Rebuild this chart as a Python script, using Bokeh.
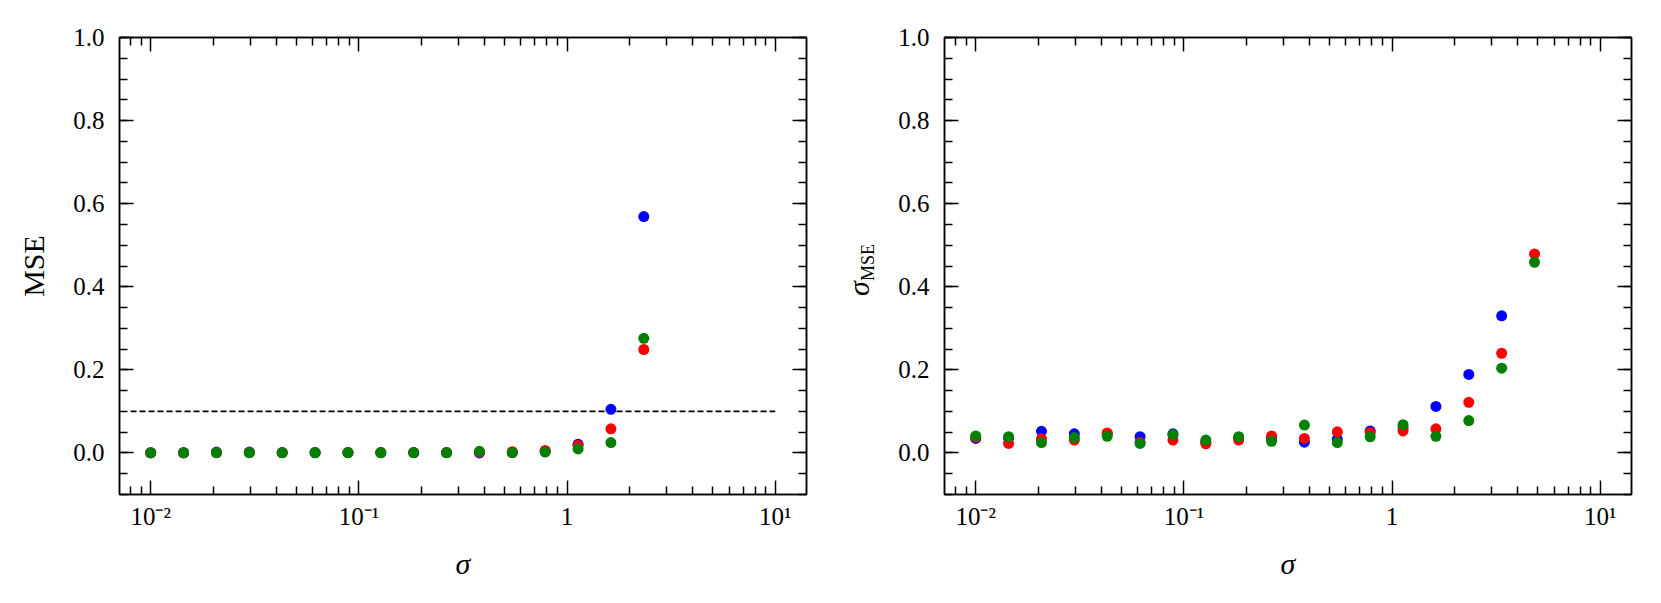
from bokeh.plotting import figure
from bokeh.layouts import row
from bokeh.models import (FixedTicker, LogAxis, LinearAxis, Range1d, Div,
                          CustomJSTickFormatter)
from bokeh.embed import file_html
from bokeh.resources import INLINE

# ---------------- data ----------------
sigma = [0.01, 0.014384, 0.020691, 0.029764, 0.042813, 0.061585, 0.088587,
         0.127427, 0.183298, 0.263665, 0.379269, 0.545559, 0.784760,
         1.128838, 1.623777, 2.335721, 3.359818, 4.832930]

# left panel: MSE
mse_blue = [0.0005, 0.0005, 0.002, 0.002, 0.001, 0.0008, 0.0008, 0.0008, 0.0008,
            0.0008, 0.0, 0.001, 0.004, 0.021, 0.105, 0.569]
mse_red = [0.0005, 0.0005, 0.001, 0.001, 0.001, 0.0008, 0.0008, 0.0008, 0.0008,
           0.001, 0.002, 0.003, 0.006, 0.018, 0.058, 0.249]
mse_green = [0.0005, 0.0005, 0.0005, 0.0005, 0.0005, 0.0005, 0.0005, 0.0005, 0.0005,
             0.0005, 0.004, 0.001, 0.002, 0.0096, 0.025, 0.276]

# right panel: sigma_MSE
std_blue = [0.035, 0.036, 0.052, 0.046, 0.046, 0.039, 0.046, 0.026, 0.036,
            0.035, 0.026, 0.033, 0.053, 0.060, 0.112, 0.189, 0.330]
std_red = [0.038, 0.023, 0.034, 0.031, 0.048, 0.025, 0.031, 0.022, 0.031,
           0.041, 0.035, 0.051, 0.049, 0.053, 0.058, 0.122, 0.240, 0.479]
std_green = [0.041, 0.039, 0.025, 0.037, 0.040, 0.023, 0.044, 0.031, 0.039,
             0.028, 0.067, 0.025, 0.039, 0.068, 0.040, 0.078, 0.204, 0.459]

threshold_y = [0.1, 0.1]
threshold_x = [0.008, 10.0]

x_major = [0.01, 0.1, 1.0, 10.0]
x_label_text = ["10\u207b\u00b2", "10\u207b\u00b9", "1", "10\u00b9"]
y_major = [0.0, 0.2, 0.4, 0.6, 0.8, 1.0]

# ---------------- style ----------------
FONT = "Liberation Serif"
X_LO, X_HI = 10 ** -2.15, 10 ** 1.15
Y_LO, Y_HI = -0.1, 1.0
FW, FH = 687, 457
TOP, BOTTOM = 37, 100

x_minor = [m * 10.0 ** e for e in range(-3, 2) for m in range(2, 10)
           if X_LO <= m * 10.0 ** e <= X_HI]
y_minor = [round(-0.1 + 0.05 * i, 2) for i in range(23)]

x_fmt_code = """
let best = 0, bd = Infinity;
for (let i = 0; i < ticks_v.length; i++) {
  const d = Math.abs(Math.log10(tick) - Math.log10(ticks_v[i]));
  if (d < bd) { bd = d; best = i; }
}
return names[best];
"""
y_fmt_code = "return tick.toFixed(1);"


def style_axis(ax, labels_on, standoff=12):
    ax.axis_line_width = 1.5
    ax.axis_line_color = "black"
    ax.major_tick_in = 14
    ax.major_tick_out = 0
    ax.minor_tick_in = 8
    ax.minor_tick_out = 0
    ax.major_tick_line_width = 1.5
    ax.minor_tick_line_width = 1.5
    ax.major_tick_line_color = "black"
    ax.minor_tick_line_color = "black"
    ax.major_label_text_font = FONT
    if labels_on:
        ax.major_label_text_color = "black"
        ax.major_label_text_font_size = "25px"
        ax.major_label_standoff = standoff
    else:
        ax.major_label_text_alpha = 0.0
        ax.major_label_text_font_size = "2px"
        ax.major_label_standoff = 0


def make_fig(border_left, border_right):
    p = figure(x_axis_type="log",
               x_range=Range1d(X_LO, X_HI), y_range=Range1d(Y_LO, Y_HI),
               frame_width=FW, frame_height=FH,
               min_border_left=border_left, min_border_right=border_right,
               min_border_top=TOP, min_border_bottom=BOTTOM,
               output_backend="svg", toolbar_location=None)
    p.xgrid.visible = False
    p.ygrid.visible = False
    p.outline_line_color = "black"
    p.outline_line_width = 1.5
    p.background_fill_color = "white"
    p.border_fill_color = "white"

    xt = FixedTicker(ticks=x_major, minor_ticks=x_minor)
    yt = FixedTicker(ticks=y_major, minor_ticks=y_minor)

    bottom = p.xaxis[0]
    left = p.yaxis[0]
    bottom.ticker = xt
    bottom.formatter = CustomJSTickFormatter(
        args=dict(ticks_v=x_major, names=x_label_text), code=x_fmt_code)
    left.ticker = yt
    left.formatter = CustomJSTickFormatter(code=y_fmt_code)
    style_axis(bottom, True, 8)
    style_axis(left, True, 15)

    bottom.axis_label = "\u03c3"
    bottom.axis_label_text_font = FONT
    bottom.axis_label_text_font_style = "italic"
    bottom.axis_label_text_font_size = "30px"
    bottom.axis_label_standoff = 14
    bottom.axis_label_text_color = "black"

    top = LogAxis(ticker=xt, formatter=CustomJSTickFormatter(
        args=dict(ticks_v=x_major, names=x_label_text), code=x_fmt_code))
    style_axis(top, False)
    p.add_layout(top, "above")
    right = LinearAxis(ticker=yt, formatter=CustomJSTickFormatter(code=y_fmt_code))
    style_axis(right, False)
    p.add_layout(right, "right")
    return p, left


def dots(p, x, y, color):
    p.scatter(x[:len(y)], y, size=11, fill_color=color, line_color=color,
              line_width=0)


# left panel
p1, left1 = make_fig(119, 24)
p1.line(threshold_x, threshold_y, line_color="black", line_width=1.6,
        line_dash="6 3")
dots(p1, sigma, mse_blue, "blue")
dots(p1, sigma, mse_red, "red")
dots(p1, sigma, mse_green, "green")
left1.axis_label = "MSE"
left1.axis_label_text_font = FONT
left1.axis_label_text_font_style = "normal"
left1.axis_label_text_font_size = "30px"
left1.axis_label_standoff = 20
left1.axis_label_text_color = "black"

# right panel
p2, left2 = make_fig(46, 21)
dots(p2, sigma, std_blue, "blue")
dots(p2, sigma, std_red, "red")
dots(p2, sigma, std_green, "green")

# y label of the right panel: sigma with subscript MSE (rotated)
TOTAL_H = TOP + FH + BOTTOM
DIV_W = 55
label_html = (
    '<div style="position:relative;width:%dpx;height:%dpx;">'
    '<div style="position:absolute;left:25px;top:%dpx;'
    'transform:translate(-50%%,-50%%) rotate(-90deg);white-space:nowrap;'
    "font-family:'Liberation Serif',serif;font-size:30px;line-height:1;color:black;\">"
    '<span style="font-style:italic;">\u03c3</span>'
    '<sub style="font-size:18px;font-style:normal;vertical-align:-5px;">MSE</sub>'
    '</div></div>'
) % (DIV_W, TOTAL_H, TOP + FH // 2)
ylab2 = Div(text=label_html, width=DIV_W, height=TOTAL_H)

layout = row(p1, ylab2, p2)
open("out.html", "w").write(file_html(layout, INLINE))
